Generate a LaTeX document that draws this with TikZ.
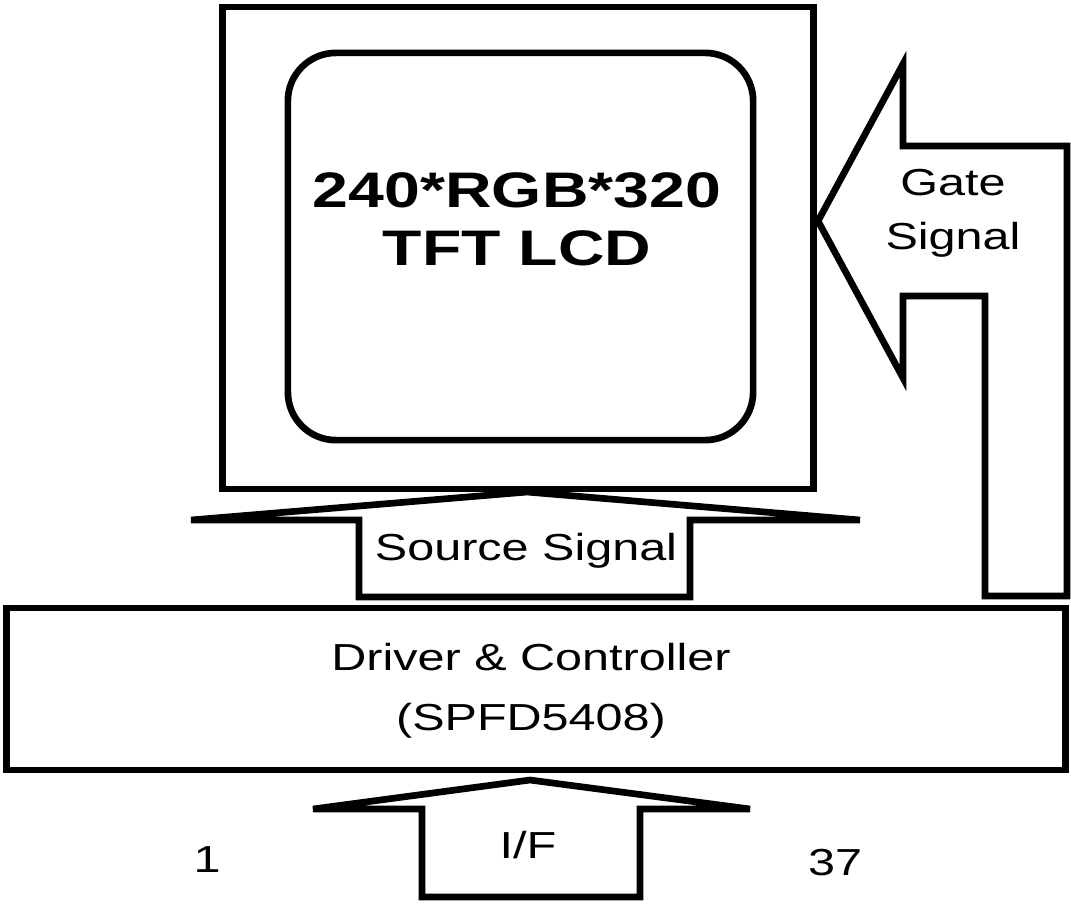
\documentclass[tikz,border=0pt]{standalone}
\usepackage{fontspec}
\setmainfont{Liberation Sans}[FakeStretch=1.29]
\usetikzlibrary{positioning}
\tikzstyle{frame}  = [rectangle, draw=black, line width=1.9pt, inner sep=0pt]
\tikzstyle{screen} = [frame, rounded corners=0.48cm]
\tikzstyle{block}  = [draw=black, line width=1.9pt]
\tikzstyle{txt}    = [font=\fontsize{10.7}{15.3}\selectfont, align=center, inner sep=0pt]
\tikzstyle{bigtxt} = [font=\bfseries\fontsize{14.2}{16.5}\selectfont, align=center, inner sep=0pt]

\begin{document}
\begin{tikzpicture}[x=0.01cm, y=-0.01cm]
  \useasboundingbox (0,0) rectangle (1071,903);

  % --- LCD panel ---
  \node (panel) [frame, minimum width=5.9cm, minimum height=4.82cm] at (518,248) {};
  \node (lcd)   [screen, minimum width=4.65cm, minimum height=3.87cm] at (520.5,246.5) {};
  \node (lcd_txt) [bigtxt] at (517,219) {240*RGB*320\\TFT LCD};

  % --- Driver ---
  \node (driver) [frame, minimum width=10.58cm, minimum height=1.62cm] at (536,689) {};
  \node (drv_txt) [txt, font=\fontsize{10.7}{17}\selectfont] at (531,691) {Driver \& Controller\\(SPFD5408)};

  % --- Gate signal ---
  \draw[block] (818,221) -- (903,64) -- (903,146) -- (1067,146) -- (1067,596)
               -- (985,596) -- (985,296) -- (903,296) -- (903,378) -- cycle;
  \node (gate_txt) [txt] at (953,213) {Gate\\Signal};

  % --- Source signal ---
  \draw[block] (527,492) -- (860,520) -- (690,520) -- (690,597)
               -- (359,597) -- (359,520) -- (191,520) -- cycle;
  \node (src_txt) [txt] at (526,551) {Source Signal};

  % --- Interface ---
  \draw[block] (530,780) -- (750,809) -- (640,809) -- (640,897)
               -- (422,897) -- (422,809) -- (313,809) -- cycle;
  \node (if_txt)  [txt] at (528,845) {I/F};
  \node (pin_a)   [txt] at (207,860) {1};
  \node (pin_b)   [txt] at (835,863) {37};

\end{tikzpicture}
\end{document}
